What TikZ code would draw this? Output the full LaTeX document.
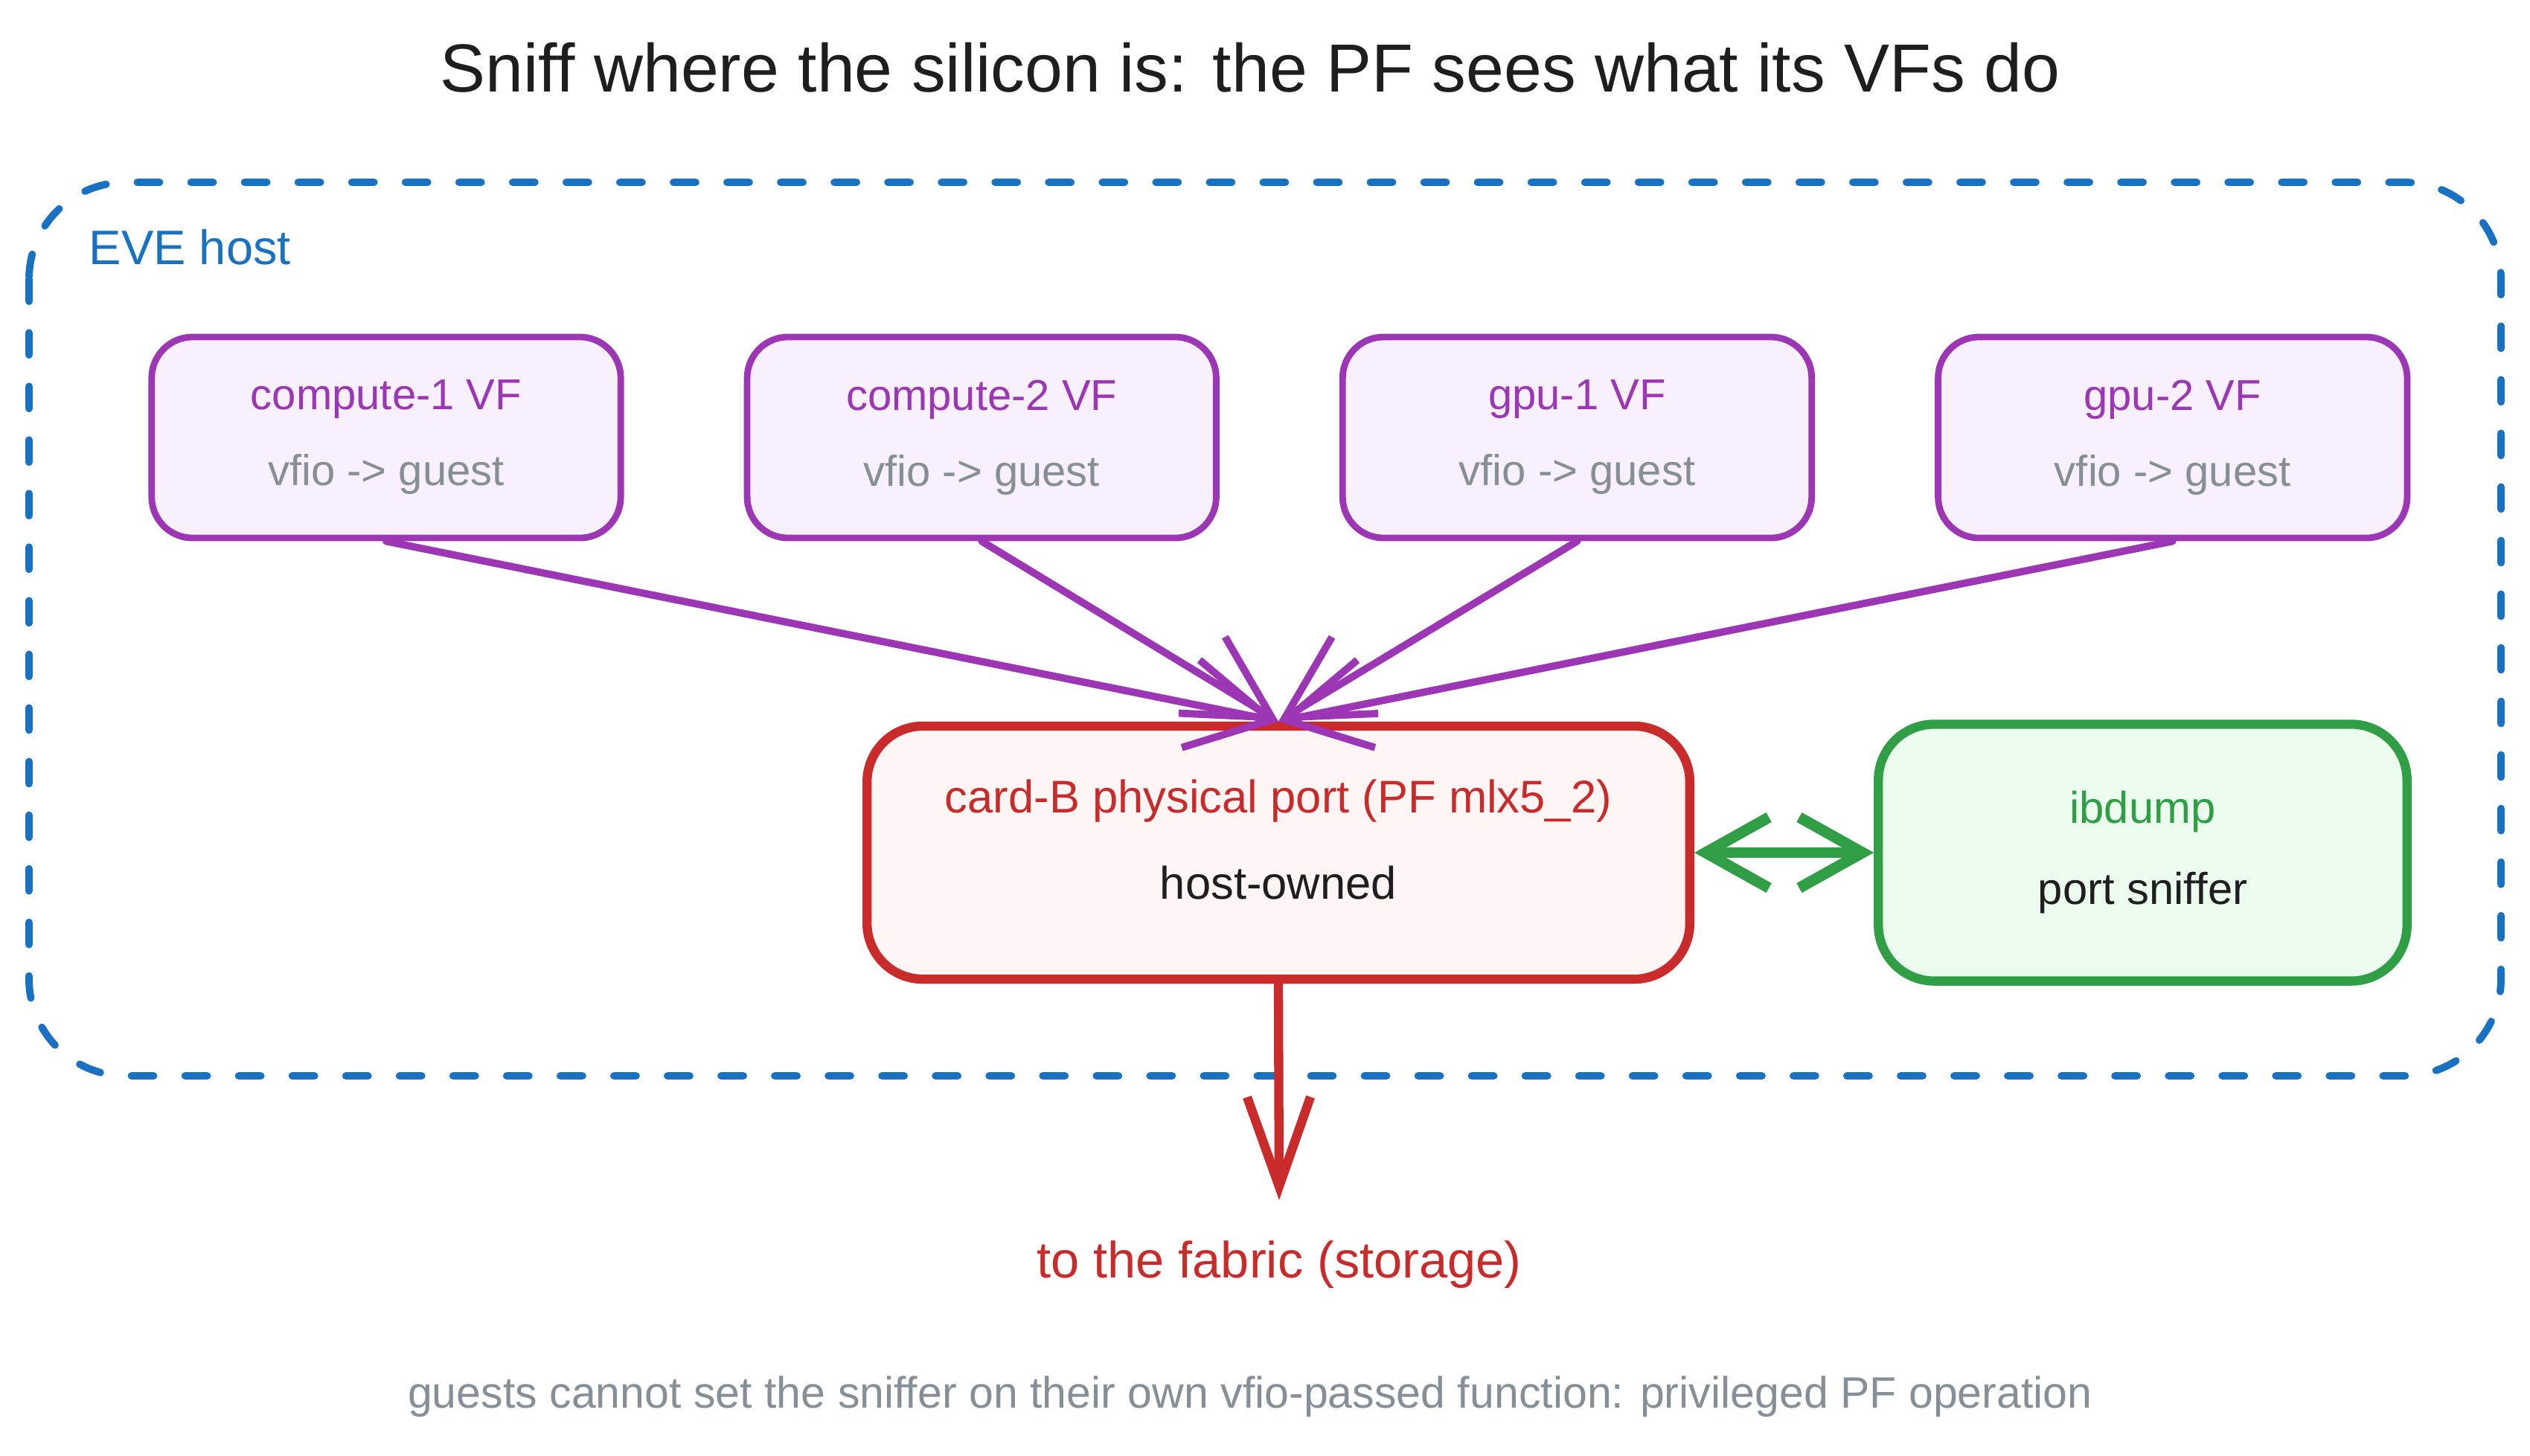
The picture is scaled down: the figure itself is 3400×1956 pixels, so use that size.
\documentclass[tikz,border=0pt]{standalone}
\usepackage{xcolor}
\usepackage{fontspec}
\setmainfont{Liberation Sans}
\usetikzlibrary{arrows.meta,positioning}

\definecolor{hostblue}{HTML}{1971C2}
\definecolor{vfpurple}{HTML}{9C36B5}
\definecolor{vffill}{HTML}{F8F0FC}
\definecolor{pfred}{HTML}{C92A2A}
\definecolor{pffill}{HTML}{FFF5F5}
\definecolor{sniffgreen}{HTML}{2F9E44}
\definecolor{snifffill}{HTML}{EBFBEE}
\definecolor{mutedgray}{HTML}{868E96}
\definecolor{inkblack}{HTML}{1E1E1E}

\begin{document}
\begin{tikzpicture}[
    x=0.01cm, y=-0.01cm,
    hostframe/.style={draw=hostblue, line width=2.8pt, dash pattern=on 0.3cm off 0.42cm, line cap=round, rounded corners=1.3cm},
    vfbox/.style={rectangle, rounded corners=0.55cm, minimum width=6.3cm, minimum height=2.7cm, align=center, draw=vfpurple, fill=vffill, line width=2.5pt, font=\fontsize{16.5}{20}\selectfont},
    pfbox/.style={rectangle, rounded corners=0.75cm, minimum width=11.05cm, minimum height=3.4cm, align=center, draw=pfred, fill=pffill, line width=3.5pt, font=\fontsize{17.5}{21}\selectfont},
    sniffbox/.style={rectangle, rounded corners=0.75cm, minimum width=7.1cm, minimum height=3.45cm, align=center, draw=sniffgreen, fill=snifffill, line width=3.5pt, font=\fontsize{17}{20}\selectfont},
    vfarrow/.style={-{Straight Barb[length=1.1cm, width=1.2cm]}, draw=vfpurple, line width=2.8pt, line cap=round},
    pfarrow/.style={-{Straight Barb[length=1.2cm, width=0.85cm]}, draw=pfred, line width=3.5pt, line cap=round},
    sniffarrow/.style={{Straight Barb[length=0.85cm, width=0.95cm]}-{Straight Barb[length=0.85cm, width=0.95cm]}, draw=sniffgreen, line width=4.2pt, line cap=round},
    label/.style={inner sep=0pt}
]

\useasboundingbox (0,0) rectangle (3400,1956);

% title
\node[label, font=\fontsize{26}{30}\selectfont, text=inkblack] (title) at (1680,91) {Sniff where the silicon is: the PF sees what its VFs do};

% host frame
\draw[hostframe] (39,245) rectangle (3361,1446);
\node[label, anchor=west, font=\fontsize{18.5}{22}\selectfont, text=hostblue] (host) at (119,332) {EVE host};

% virtual functions
\node[vfbox] (vf1) at (519,588) {\textcolor{vfpurple}{compute-1 VF}\\[9pt]\textcolor{mutedgray}{vfio -> guest}};
\node[vfbox, right=1.61cm of vf1] (vf2) {\textcolor{vfpurple}{compute-2 VF}\\[9pt]\textcolor{mutedgray}{vfio -> guest}};
\node[vfbox, right=1.61cm of vf2] (vf3) {\textcolor{vfpurple}{gpu-1 VF}\\[9pt]\textcolor{mutedgray}{vfio -> guest}};
\node[vfbox, right=1.61cm of vf3] (vf4) {\textcolor{vfpurple}{gpu-2 VF}\\[9pt]\textcolor{mutedgray}{vfio -> guest}};

% physical port and sniffer
\node[pfbox] (pf) at (1718,1146) {\textcolor{pfred}{card-B physical port (PF mlx5\_2)}\\[12pt]\textcolor{inkblack}{host-owned}\rule[-0.35cm]{0pt}{0pt}};
\node[sniffbox, right=2.41cm of pf] (sniffer) {\textcolor{sniffgreen}{ibdump}\\[11pt]\textcolor{inkblack}{port sniffer}};

% fabric and note
\node[label, font=\fontsize{19.5}{23}\selectfont, text=pfred] (fabric) at (1719,1700) {to the fabric (storage)};
\coordinate (fabricend) at (1719,1613);
\node[label, font=\fontsize{16.8}{20}\selectfont, text=mutedgray] (note) at (1680,1877) {guests cannot set the sniffer on their own vfio-passed function: privileged PF operation};

\draw[vfarrow] (vf1.south) -- (pf.north);
\draw[vfarrow] (vf2.south) -- (pf.north);
\draw[vfarrow] (vf3.south) -- (pf.north);
\draw[vfarrow] (vf4.south) -- (pf.north);
\draw[sniffarrow] (pf.east) -- (sniffer.west);
\draw[pfarrow] (pf.south) -- (fabricend);

\end{tikzpicture}
\end{document}
